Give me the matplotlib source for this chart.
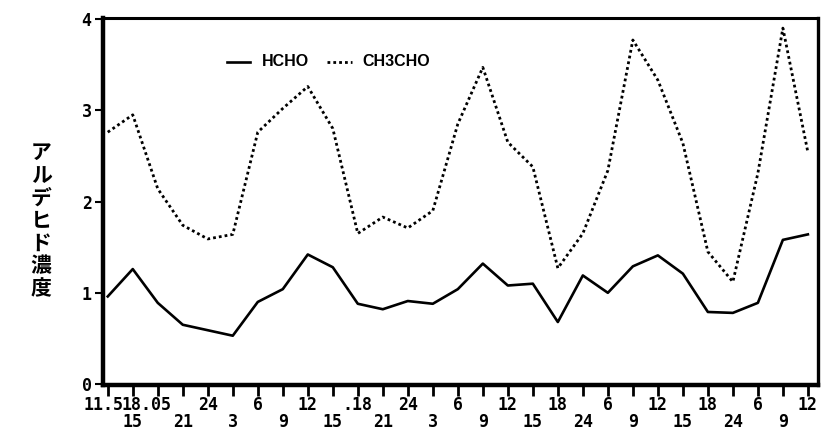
"""Diurnal aldehyde concentration record: HCHO and CH3CHO at 3-hour steps."""

import matplotlib

matplotlib.use("Agg")

import matplotlib.pyplot as plt
import matplotlib.transforms as mtransforms
import numpy as np

# 3-hourly sampling slots
slot_upper = ["11.5", "", "18.05", "", "24", "", "6", "", "12", "", ".18", "", "24", "",
              "6", "", "12", "", "18", "", "6", "", "12", "", "18", "", "6", "", "12"]
slot_lower = ["", "15", "", "21", "", "3", "", "9", "", "15", "", "21", "", "3",
              "", "9", "", "15", "", "24", "", "9", "", "15", "", "24", "", "9", ""]

hcho = [0.96, 1.26, 0.89, 0.65, 0.59, 0.53, 0.90, 1.04, 1.42, 1.28, 0.88, 0.82, 0.91, 0.88,
        1.04, 1.32, 1.08, 1.10, 0.68, 1.19, 1.00, 1.29, 1.41, 1.21, 0.79, 0.78, 0.89, 1.58, 1.64]
ch3cho = [2.76, 2.95, 2.14, 1.74, 1.59, 1.64, 2.76, 3.02, 3.26, 2.80, 1.65, 1.83, 1.71, 1.90,
          2.85, 3.47, 2.65, 2.38, 1.27, 1.65, 2.34, 3.77, 3.33, 2.64, 1.45, 1.12, 2.31, 3.90, 2.54]

x = np.arange(len(hcho))

fig = plt.figure(figsize=(8.22, 4.41), dpi=100)
ax = fig.add_axes([0.125, 0.127, 0.87, 0.832])

dotted = (0, (1, 1.1))
ax.plot(x, hcho, color="black", linewidth=1.9)
ax.plot(x, ch3cho, color="black", linewidth=2.0, linestyle=dotted)

ax.set_xlim(-0.2, 28.4)
ax.set_ylim(-0.01, 4.01)

tick_font = {"family": "DejaVu Sans Mono", "weight": "bold", "size": 12}
ax.set_xticks(x)
ax.set_xticklabels([f"{u}\n{l}" for u, l in zip(slot_upper, slot_lower)], fontdict=tick_font,
                   linespacing=0.9)
ax.set_yticks([0, 1, 2, 3, 4])
ax.set_yticklabels(["0", "1", "2", "3", "4"], fontdict=tick_font)

ax.tick_params(axis="x", direction="out", length=8, width=2, pad=0)
ax.tick_params(axis="y", direction="out", length=6, width=1.5, pad=2)

# nudge the crowded first labels leftwards
for idx, dx in ((0, -4), (2, -11)):
    lab = ax.get_xticklabels()[idx]
    lab.set_transform(lab.get_transform() + mtransforms.ScaledTranslation(dx / 100, 0, fig.dpi_scale_trans))

ax.spines["left"].set_linewidth(3.2)
ax.spines["bottom"].set_linewidth(3.2)
ax.spines["top"].set_linewidth(2.2)
ax.spines["right"].set_linewidth(2.4)

# legend drawn inline near the top
legend_font = {"family": ["Liberation Sans", "DejaVu Sans"], "weight": "bold", "size": 11.5}
legend_y = 3.53
ax.plot([4.75, 5.7], [legend_y, legend_y], color="black", linewidth=1.9)
ax.text(6.15, legend_y, "HCHO", va="center", ha="left", fontdict=legend_font)
ax.plot([8.75, 9.75], [legend_y, legend_y], color="black", linewidth=2.0, linestyle=dotted)
ax.text(10.2, legend_y, "CH3CHO", va="center", ha="left", fontdict=legend_font)

fig.text(0.05, 0.50, "\n".join("アルデヒド濃度"), ha="center", va="center",
         family=["Noto Sans CJK JP", "DejaVu Sans"], weight="bold", fontsize=15, linespacing=1.1)

fig.savefig("out.png", dpi=100)
plt.close(fig)
